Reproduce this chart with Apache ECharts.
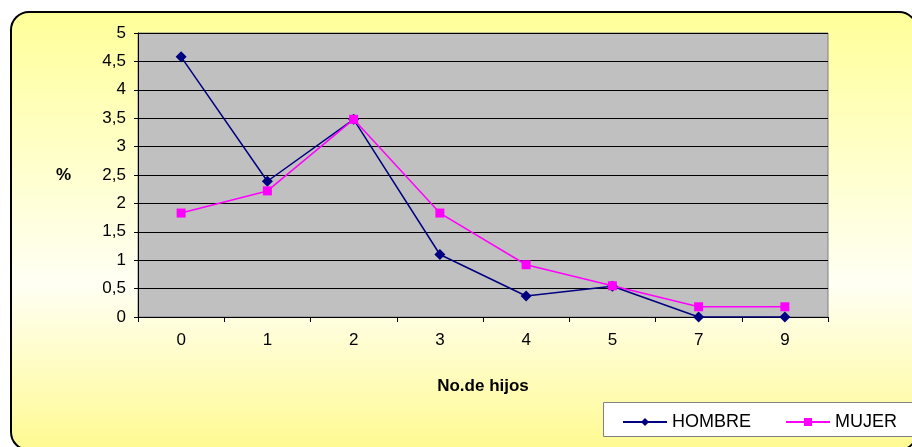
<!DOCTYPE html>
<html><head><meta charset="utf-8">
<script src="https://cdn.jsdelivr.net/npm/echarts@6/dist/echarts.min.js"></script>
<style>html,body{margin:0;padding:0;background:#fff;}#c{width:912px;height:447px;}</style>
</head><body><div id="c"></div>
<script>
const categories = ['0','1','2','3','4','5','7','9'];
const hombre = [4.58, 2.39, 3.48, 1.1, 0.37, 0.54, 0, 0];
const mujer = [1.83, 2.22, 3.48, 1.83, 0.92, 0.55, 0.18, 0.18];
const yTicks = [0,0.5,1,1.5,2,2.5,3,3.5,4,4.5,5];

const chart = echarts.init(document.getElementById('c'));
const font = 'Liberation Sans, Arial, sans-serif';
chart.setOption({
  animation:false,
  textStyle:{fontFamily:font},
  graphic:[
    {type:'rect', z:-10, shape:{x:11,y:12,width:906,height:438,r:18},
     style:{fill:new echarts.graphic.LinearGradient(0,0,0,1,[
       {offset:0,color:'#FFFF99'},{offset:0.62,color:'#FFFFF4'},{offset:1,color:'#FFFA90'}]),
       stroke:'#000',lineWidth:2}},
    {type:'rect', z:-5, shape:{x:603.5,y:402.5,width:320,height:34},
     style:{fill:'#fff',stroke:'#808080',lineWidth:1}}
  ],
  grid:{left:138,right:84,top:33,bottom:130,show:true,backgroundColor:'#C0C0C0',borderColor:'#808080',borderWidth:1},
  legend:{left:617,top:408,itemWidth:44,itemHeight:10,itemGap:34,
    textStyle:{fontSize:18,color:'#000',fontFamily:font},
    data:['HOMBRE','MUJER']},
  xAxis:{type:'category',data:categories,boundaryGap:true,
    name:'No.de hijos',nameLocation:'middle',nameGap:61,
    nameTextStyle:{fontWeight:'bold',fontSize:17,color:'#000'},
    axisLine:{lineStyle:{color:'#000'}},
    axisTick:{show:true,length:5,lineStyle:{color:'#000'}},
    axisLabel:{fontSize:17,color:'#000',margin:15}},
  yAxis:{type:'value',min:yTicks[0],max:yTicks[yTicks.length-1],interval:0.5,
    name:'%',nameLocation:'middle',nameGap:67,nameRotate:0,
    nameTextStyle:{fontWeight:'bold',fontSize:17,color:'#000'},
    axisLine:{show:true,lineStyle:{color:'#000'}},
    axisTick:{show:true,length:4,lineStyle:{color:'#000'}},
    axisLabel:{fontSize:17,color:'#000',margin:12,
      formatter:v=>String(v).replace('.',',')},
    splitLine:{lineStyle:{color:'#000',width:1}}},
  series:[
    {name:'HOMBRE',type:'line',data:hombre,symbol:'diamond',symbolSize:11,
     lineStyle:{color:'#000080',width:1.5},itemStyle:{color:'#000080'}},
    {name:'MUJER',type:'line',data:mujer,symbol:'rect',symbolSize:9,
     lineStyle:{color:'#FF00FF',width:1.5},itemStyle:{color:'#FF00FF'}}
  ]
});
</script></body></html>
